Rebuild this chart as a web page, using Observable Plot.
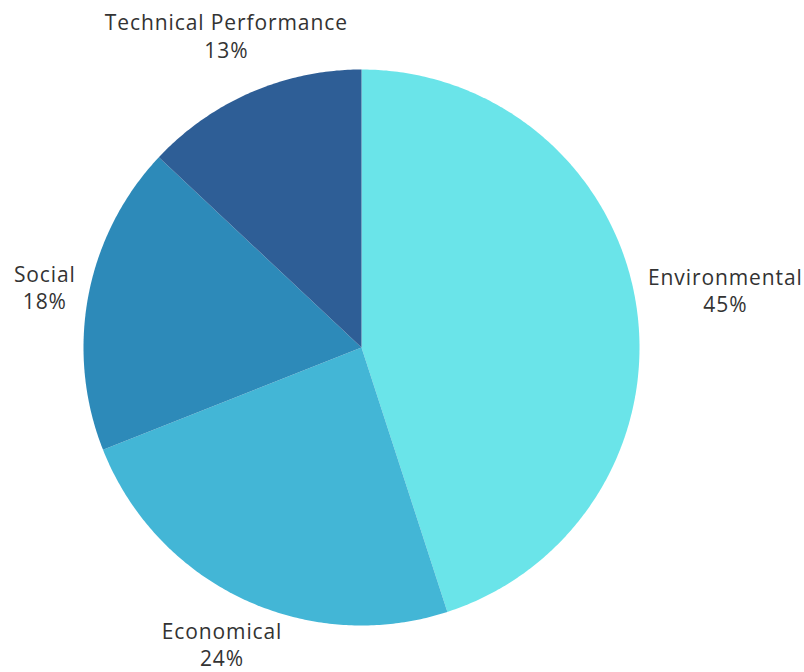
<!DOCTYPE html>
<html>
<head>
<meta charset="utf-8">
<script src="https://cdn.jsdelivr.net/npm/d3@7"></script>
<script src="https://cdn.jsdelivr.net/npm/@observablehq/plot@0.6"></script>
<style>
  html, body { margin: 0; padding: 0; background: #fff; }
  #chart svg { display: block; }
</style>
</head>
<body>
<div id="chart"></div>
<script>
// Data
const categories = ["Environmental", "Economical", "Social", "Technical Performance"];
const values = [45, 24, 18, 13];
const colors = ["#6AE4E9", "#43B6D6", "#2D8AB9", "#2E5E96"];

const W = 804, H = 672;
const fontFamily = "'Open Sans', 'Noto Sans', sans-serif";
const fontSize = 21;
const letterSpacing = 0.9;

// measure label widths for layout
const ctx = document.createElement("canvas").getContext("2d");
ctx.font = `${fontSize}px ${fontFamily}`;
const measure = s => ctx.measureText(s).width + letterSpacing * s.length;

const total = d3.sum(values);
const R = 278; // pie radius in px (frame fit)
let acc = 0;
const slices = categories.map((name, i) => {
  const a0 = acc / total * 2 * Math.PI;
  acc += values[i];
  const a1 = acc / total * 2 * Math.PI;
  const n = Math.max(2, Math.ceil((a1 - a0) / 0.01));
  const ring = [[0, 0]];
  for (let k = 0; k <= n; k++) {
    const a = a0 + (a1 - a0) * k / n;
    ring.push([Math.sin(a), -Math.cos(a)]);
  }
  ring.push([0, 0]);
  const mid = (a0 + a1) / 2;
  const pct = Math.round(values[i] / total * 100) + "%";
  const w = Math.max(measure(name), measure(pct));
  const s = Math.sin(mid), c = -Math.cos(mid);
  const d = (R + 14 + (w / 2) * Math.abs(s) + 11 * Math.max(0, c)) / R;
  return {
    type: "Feature",
    properties: {name, value: values[i], label: name + "\n" + pct,
      lx: s * d, ly: c * d},
    geometry: {type: "Polygon", coordinates: [ring]}
  };
});

const chart = Plot.plot({
  width: W,
  height: H,
  marginLeft: 83,
  marginRight: 165,
  marginTop: 69,
  marginBottom: 47,
  style: {fontFamily, background: "#fff", overflow: "visible"},
  projection: {type: "identity", clip: false, domain: {type: "MultiPoint", coordinates: [[-1, -1], [1, 1]]}},
  color: {domain: categories, range: colors},
  marks: [
    Plot.geo(slices, {fill: d => d.properties.name}),
    Plot.text(slices, {
      x: d => d.properties.lx,
      y: d => d.properties.ly,
      text: d => d.properties.label,
      fontSize,
      lineHeight: 1.3,
      fill: "#333333",
      textAnchor: "middle"
    })
  ]
});
chart.querySelectorAll("text").forEach(t => t.style.letterSpacing = letterSpacing + "px");
document.getElementById("chart").appendChild(chart);
</script>
</body>
</html>
